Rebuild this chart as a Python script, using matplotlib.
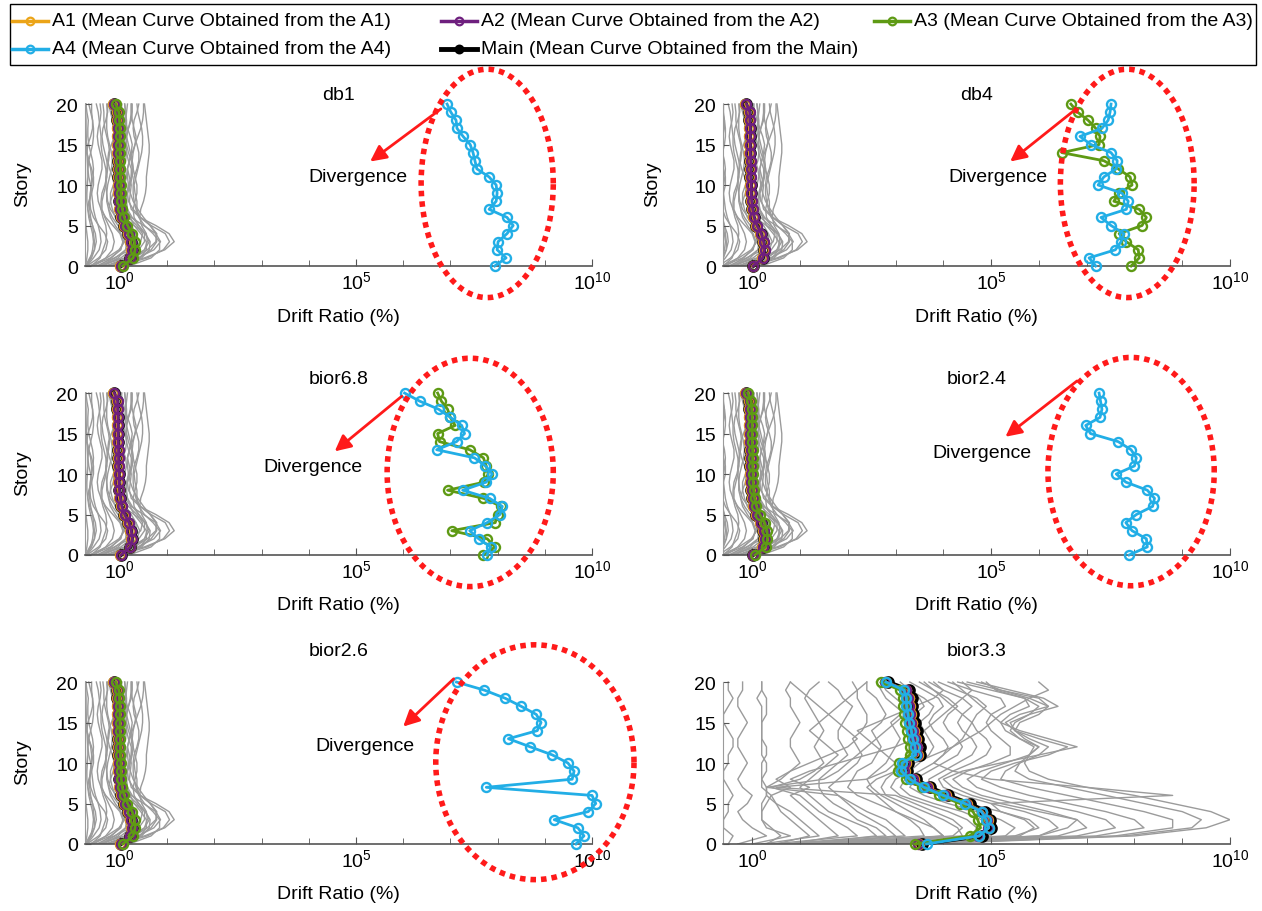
import numpy as np
import matplotlib.pyplot as plt
from matplotlib.lines import Line2D
from matplotlib.patches import Rectangle
from matplotlib.ticker import NullFormatter

plt.rcParams['font.family'] = ['Liberation Sans', 'DejaVu Sans']
plt.rcParams['mathtext.fontset'] = 'custom'
plt.rcParams['mathtext.rm'] = 'Liberation Sans'
plt.rcParams['font.size'] = 14

stories = np.arange(21)  # story 0 .. 20

# --- individual record drift ratios (log10), story 0..20 ---
# shared by the well behaved wavelets (db1, db4, bior6.8, bior2.4, bior2.6)
records_stable = [
    [-0.70, -0.62, -0.58, -0.56, -0.58, -0.62, -0.66, -0.68, -0.70, -0.70, -0.69, -0.68, -0.68, -0.69, -0.70, -0.71, -0.72, -0.72, -0.72, -0.73, -0.73],
    [-0.70, -0.45, -0.30, -0.26, -0.32, -0.45, -0.56, -0.62, -0.64, -0.63, -0.60, -0.57, -0.56, -0.58, -0.62, -0.66, -0.68, -0.68, -0.67, -0.70, -0.72],
    [-0.60, -0.20, 0.02, 0.06, 0.00, -0.15, -0.30, -0.40, -0.46, -0.48, -0.46, -0.42, -0.38, -0.38, -0.42, -0.46, -0.48, -0.46, -0.42, -0.40, -0.42],
    [-0.45, 0.10, 0.36, 0.42, 0.34, 0.12, -0.08, -0.20, -0.26, -0.28, -0.30, -0.30, -0.28, -0.24, -0.22, -0.24, -0.28, -0.32, -0.34, -0.34, -0.36],
    [-0.30, 0.25, 0.52, 0.62, 0.54, 0.30, 0.06, -0.06, -0.10, -0.08, -0.02, 0.02, 0.02, -0.04, -0.10, -0.12, -0.10, -0.04, 0.00, 0.00, -0.06],
    [-0.20, 0.38, 0.72, 0.86, 0.76, 0.50, 0.24, 0.10, 0.04, 0.04, 0.10, 0.14, 0.12, 0.06, 0.02, 0.04, 0.10, 0.14, 0.14, 0.12, 0.10],
    [-0.25, 0.52, 0.95, 1.15, 1.04, 0.76, 0.42, 0.24, 0.20, 0.22, 0.24, 0.20, 0.16, 0.20, 0.26, 0.32, 0.34, 0.30, 0.26, 0.24, 0.24],
    [0.00, 0.58, 0.92, 1.05, 0.96, 0.66, 0.42, 0.36, 0.36, 0.32, 0.30, 0.34, 0.38, 0.42, 0.46, 0.48, 0.48, 0.46, 0.42, 0.38, 0.36],
    [-0.40, 0.02, 0.24, 0.34, 0.34, 0.24, 0.12, 0.06, 0.02, -0.02, -0.04, -0.08, -0.10, -0.06, 0.00, 0.04, 0.06, 0.10, 0.12, 0.12, 0.10],
    [-0.65, -0.28, -0.02, 0.10, 0.08, -0.04, -0.16, -0.24, -0.28, -0.28, -0.26, -0.22, -0.18, -0.16, -0.18, -0.22, -0.26, -0.28, -0.28, -0.27, -0.28],
    [-0.55, -0.30, -0.16, -0.12, -0.16, -0.24, -0.32, -0.38, -0.38, -0.34, -0.30, -0.28, -0.30, -0.34, -0.38, -0.40, -0.40, -0.42, -0.44, -0.46, -0.50],
    [-0.15, 0.12, 0.26, 0.28, 0.18, 0.02, -0.10, -0.16, -0.20, -0.20, -0.14, -0.06, 0.00, 0.02, 0.00, -0.06, -0.10, -0.14, -0.16, -0.20, -0.24],
    [0.10, 0.46, 0.62, 0.64, 0.54, 0.40, 0.30, 0.28, 0.32, 0.36, 0.36, 0.32, 0.28, 0.26, 0.28, 0.32, 0.38, 0.44, 0.48, 0.50, 0.50],
    [-0.30, 0.14, 0.40, 0.52, 0.52, 0.40, 0.26, 0.16, 0.12, 0.14, 0.18, 0.24, 0.26, 0.24, 0.18, 0.14, 0.14, 0.18, 0.22, 0.24, 0.24],
    [-0.72, -0.60, -0.54, -0.54, -0.56, -0.58, -0.64, -0.68, -0.66, -0.60, -0.56, -0.56, -0.60, -0.66, -0.70, -0.68, -0.62, -0.58, -0.58, -0.62, -0.66],
    [-0.40, -0.10, 0.12, 0.24, 0.24, 0.14, 0.02, -0.04, -0.08, -0.10, -0.08, -0.02, 0.06, 0.12, 0.14, 0.12, 0.06, 0.02, 0.00, 0.00, 0.02],
    [0.20, 0.66, 0.84, 0.84, 0.70, 0.52, 0.40, 0.34, 0.30, 0.28, 0.28, 0.30, 0.36, 0.40, 0.40, 0.36, 0.30, 0.28, 0.30, 0.36, 0.40],
    [-0.15, 0.30, 0.58, 0.76, 0.78, 0.64, 0.44, 0.28, 0.18, 0.16, 0.20, 0.24, 0.24, 0.18, 0.14, 0.12, 0.14, 0.18, 0.24, 0.26, 0.26],
    [-0.60, -0.42, -0.36, -0.30, -0.28, -0.30, -0.36, -0.40, -0.40, -0.38, -0.32, -0.28, -0.26, -0.28, -0.32, -0.36, -0.38, -0.36, -0.30, -0.26, -0.26],
    [0.00, 0.40, 0.66, 0.78, 0.76, 0.64, 0.50, 0.38, 0.28, 0.22, 0.18, 0.16, 0.16, 0.20, 0.24, 0.26, 0.22, 0.16, 0.10, 0.06, 0.02],
    [-0.70, -0.56, -0.44, -0.40, -0.42, -0.46, -0.52, -0.56, -0.58, -0.60, -0.62, -0.66, -0.68, -0.66, -0.62, -0.58, -0.56, -0.56, -0.58, -0.60, -0.60],
    [-0.35, -0.04, 0.12, 0.14, 0.10, 0.02, -0.04, -0.08, -0.08, -0.04, 0.00, 0.02, 0.00, -0.06, -0.12, -0.14, -0.12, -0.08, -0.04, -0.06, -0.10],
    [0.12, 0.42, 0.56, 0.56, 0.44, 0.30, 0.22, 0.16, 0.14, 0.16, 0.22, 0.26, 0.28, 0.26, 0.22, 0.18, 0.14, 0.12, 0.12, 0.14, 0.16],
    [-0.45, -0.18, 0.00, 0.08, 0.02, -0.10, -0.20, -0.24, -0.20, -0.14, -0.12, -0.16, -0.22, -0.26, -0.24, -0.18, -0.12, -0.10, -0.12, -0.14, -0.16],
    [0.05, 0.32, 0.52, 0.58, 0.56, 0.46, 0.42, 0.44, 0.50, 0.54, 0.56, 0.56, 0.58, 0.60, 0.62, 0.62, 0.60, 0.58, 0.56, 0.54, 0.52],
    [-0.73, -0.64, -0.54, -0.50, -0.52, -0.58, -0.62, -0.64, -0.64, -0.62, -0.60, -0.60, -0.62, -0.66, -0.70, -0.72, -0.72, -0.73, -0.73, -0.73, -0.73],
    [-0.73, -0.70, -0.68, -0.68, -0.70, -0.72, -0.73, -0.73, -0.73, -0.72, -0.72, -0.73, -0.73, -0.73, -0.73, -0.72, -0.72, -0.73, -0.73, -0.73, -0.73],
    [-0.50, -0.12, 0.22, 0.44, 0.48, 0.36, 0.18, 0.04, -0.04, -0.06, -0.02, 0.04, 0.08, 0.08, 0.04, -0.02, -0.06, -0.06, -0.02, 0.02, 0.04],
]

# records filtered with bior3.3 (log10 in tenths), story 0..20
records_bior33 = [
    [-5, -4, -6, -6, -5, -5, -4, -5, -6, -6, -5, -5, -4, -4, -5, -6, -6, -5, -4, -5, -5],
    [-3, 3, 0, -2, -3, -1, 0, -2, -3, -2, -1, -2, -3, -3, -2, -1, -2, -3, -3, -2, -2],
    [0, 8, 3, 2, 2, 3, 4, 2, 2, 3, 3, 2, 2, 2, 2, 2, 2, 2, 1, 2, 2],
    [2, 14, 12, 10, 8, 5, 3, 3, 6, 8, 10, 9, 8, 8, 9, 10, 9, 8, 8, 7, 8],
    [4, 22, 20, 17, 14, 12, 10, 4, 10, 13, 15, 14, 13, 14, 15, 14, 13, 12, 11, 12, 14],
    [6, 28, 26, 22, 20, 17, 15, 14, 14, 16, 18, 20, 19, 18, 18, 19, 20, 21, 19, 18, 16],
    [8, 32, 30, 28, 24, 21, 18, 16, 18, 20, 22, 23, 22, 21, 23, 24, 24, 23, 22, 22, 21],
    [10, 36, 35, 33, 30, 26, 22, 20, 21, 22, 25, 26, 27, 26, 25, 27, 28, 27, 26, 24, 24],
    [12, 40, 38, 36, 33, 30, 27, 25, 24, 26, 28, 29, 30, 31, 30, 29, 31, 32, 30, 28, 27],
    [14, 44, 43, 40, 36, 32, 28, 27, 28, 30, 31, 33, 34, 34, 33, 32, 34, 36, 35, 32, 29],
    [16, 46, 47, 45, 41, 36, 31, 29, 30, 33, 35, 37, 38, 37, 36, 35, 37, 38, 36, 33, 31],
    [18, 50, 51, 48, 44, 38, 33, 31, 32, 35, 38, 40, 41, 40, 38, 37, 38, 40, 39, 36, 33],
    [20, 53, 55, 52, 47, 41, 36, 33, 34, 37, 40, 43, 44, 43, 41, 40, 41, 43, 41, 38, 35],
    [22, 56, 59, 57, 52, 45, 40, 37, 37, 40, 43, 46, 47, 46, 44, 43, 44, 46, 44, 40, 37],
    [24, 60, 64, 62, 57, 50, 44, 40, 39, 42, 46, 49, 50, 49, 47, 46, 47, 49, 47, 43, 39],
    [26, 64, 70, 68, 62, 55, 48, 44, 42, 45, 50, 54, 54, 52, 50, 49, 50, 53, 52, 46, 41],
    [28, 68, 76, 74, 68, 60, 52, 47, 45, 48, 53, 58, 60, 56, 53, 52, 54, 58, 57, 50, 43],
    [30, 72, 82, 80, 74, 66, 58, 52, 48, 50, 55, 62, 66, 60, 55, 53, 56, 62, 60, 52, 45],
    [32, 76, 88, 88, 82, 74, 66, 58, 52, 53, 56, 60, 62, 58, 55, 54, 58, 64, 61, 54, 47],
    [34, 78, 92, 94, 90, 82, 74, 66, 58, 55, 56, 58, 60, 57, 55, 56, 60, 62, 58, 52, 48],
    [36, 80, 95, 100, 96, 88, 80, 70, 62, 58, 57, 58, 59, 56, 54, 55, 58, 60, 57, 51, 49],
    [25, 55, 60, 58, 52, 50, 88, 70, 50, 42, 38, 40, 42, 44, 45, 46, 44, 42, 40, 38, 36],
    [15, 30, 28, 25, 22, 20, 18, 3, 15, 18, 20, 22, 24, 26, 28, 30, 32, 30, 28, 27, 26],
    [5, 12, 10, 8, 6, 5, 4, 8, 5, 8, 12, 16, 20, 22, 20, 18, 16, 14, 12, 10, 8],
    [20, 40, 38, 34, 30, 28, 26, 24, 26, 30, 34, 38, 42, 45, 48, 50, 52, 55, 58, 62, 60],
    [10, 26, 24, 20, 16, 14, 12, 10, 12, 14, 16, 18, 16, 14, 12, 14, 16, 18, 20, 22, 24],
    [3, 6, 4, 2, 2, 2, 3, 3, 2, 2, 2, 3, 3, 2, 2, 2, 3, 3, 3, 2, 2],
    [30, 60, 66, 68, 60, 52, 46, 42, 40, 44, 52, 60, 68, 62, 56, 52, 50, 48, 46, 44, 42],
    [8, 18, 16, 14, 12, 10, 8, 12, 8, 12, 18, 24, 30, 34, 36, 38, 40, 42, 44, 46, 44],
    [18, 42, 44, 42, 38, 34, 30, 5, 24, 28, 30, 28, 26, 24, 22, 26, 30, 34, 38, 40, 38],
]

# --- mean curves, log10 drift ratio, story 0..20 ---
mean_main = [0.02, 0.22, 0.25, 0.23, 0.18, 0.09, 0.03, 0.00, -0.02, -0.03, -0.03,
             -0.04, -0.04, -0.04, -0.05, -0.05, -0.05, -0.05, -0.06, -0.06, -0.13]
mean_a1 = [0.01, 0.21, 0.24, 0.22, 0.17, 0.08, 0.02, -0.01, -0.03, -0.04, -0.04,
           -0.05, -0.05, -0.05, -0.06, -0.06, -0.06, -0.06, -0.07, -0.07, -0.14]
mean_a2 = [0.02, 0.22, 0.26, 0.24, 0.19, 0.10, 0.04, 0.01, -0.01, -0.02, -0.02,
           -0.03, -0.03, -0.03, -0.04, -0.04, -0.04, -0.04, -0.05, -0.05, -0.12]
mean_a3 = [0.06, 0.28, 0.32, 0.31, 0.26, 0.16, 0.09, 0.05, 0.03, 0.02, 0.02,
           0.01, 0.01, 0.01, 0.00, 0.00, 0.00, 0.00, -0.01, -0.02, -0.09]

db1_a4 = [7.94, 8.18, 7.99, 8.01, 8.20, 8.33, 8.20, 7.82, 7.97, 7.99, 7.97,
          7.82, 7.56, 7.52, 7.48, 7.42, 7.27, 7.14, 7.12, 7.01, 6.93]
db4_a3 = [7.93, 8.10, 8.08, 7.83, 7.68, 8.16, 8.25, 8.10, 7.57, 7.68, 7.95,
          7.91, 7.66, 7.36, 6.48, 7.26, 7.28, 7.19, 7.03, 6.81, 6.67]
db4_a4 = [7.19, 7.05, 7.60, 7.72, 7.78, 7.51, 7.30, 7.83, 7.87, 7.74, 7.24,
          7.36, 7.62, 7.64, 7.51, 7.09, 6.86, 7.32, 7.45, 7.49, 7.51]
bior68_a3 = [7.70, 7.95, 7.78, 7.03, 7.95, 8.00, 8.08, 7.70, 6.94, 7.72, 7.80,
             7.76, 7.70, 7.41, 6.77, 6.73, 7.10, 7.00, 6.94, 6.81, 6.73]
bior68_a4 = [7.78, 7.85, 7.60, 7.41, 7.78, 8.05, 8.10, 7.83, 7.26, 7.76, 7.89,
             7.74, 7.51, 6.71, 7.13, 7.30, 7.24, 7.00, 6.75, 6.35, 6.03]
bior24_a4 = [7.89, 8.27, 8.25, 7.95, 7.82, 8.04, 8.38, 8.42, 8.27, 7.82, 7.62,
             8.00, 8.04, 7.93, 7.66, 7.08, 6.98, 7.28, 7.32, 7.29, 7.26]
bior26_a4 = [9.66, 9.83, 9.70, 9.20, 9.92, 10.08, 10.00, 7.76, 9.58, 9.62, 9.49,
             9.16, 8.69, 8.23, 8.84, 8.92, 8.82, 8.50, 8.16, 7.72, 7.13]

bior33_main = [3.55, 4.80, 5.00, 4.98, 4.88, 4.55, 4.10, 3.72, 3.42, 3.25, 3.26,
               3.52, 3.51, 3.47, 3.44, 3.40, 3.37, 3.35, 3.34, 3.28, 2.85]
bior33_a1 = [3.50, 4.75, 4.95, 4.94, 4.82, 4.50, 4.05, 3.67, 3.38, 3.20, 3.22,
             3.47, 3.46, 3.42, 3.39, 3.35, 3.32, 3.30, 3.29, 3.23, 2.80]
bior33_a2 = [3.48, 4.73, 4.93, 4.92, 4.80, 4.48, 4.03, 3.65, 3.36, 3.18, 3.20,
             3.45, 3.44, 3.40, 3.37, 3.33, 3.30, 3.28, 3.27, 3.21, 2.78]
bior33_a3 = [3.40, 4.55, 4.78, 4.72, 4.62, 4.35, 3.92, 3.55, 3.22, 3.05, 3.08,
             3.30, 3.30, 3.27, 3.24, 3.20, 3.18, 3.16, 3.15, 3.10, 2.70]
bior33_a4 = [3.65, 4.75, 4.95, 4.90, 4.80, 4.45, 4.00, 3.60, 3.30, 3.12, 3.14,
             3.42, 3.41, 3.36, 3.33, 3.29, 3.26, 3.23, 3.23, 3.18, 2.80]

names = ['Main', 'A1', 'A2', 'A3', 'A4']
colors = {'Main': 'black', 'A1': '#EBA418', 'A2': '#6E1F7E',
          'A3': '#5E9A14', 'A4': '#22AEE6'}

panels = [
    dict(title='db1', cell=(0, 0), grey=np.array(records_stable),
         curves=[mean_main, mean_a1, mean_a2, mean_a3, db1_a4],
         ring=(7.78, 10.2, 1.40, 14.1), arrow=((6.8, 19.4), (5.3, 12.9)),
         label=(5.04, 11.0), title_y=95),
    dict(title='db4', cell=(0, 1), grey=np.array(records_stable),
         curves=[mean_main, mean_a1, mean_a2, db4_a3, db4_a4],
         ring=(7.85, 10.2, 1.40, 14.1), arrow=((6.78, 19.4), (5.4, 12.9)),
         label=(5.15, 11.0), title_y=95),
    dict(title='bior6.8', cell=(1, 0), grey=np.array(records_stable),
         curves=[mean_main, mean_a1, mean_a2, bior68_a3, bior68_a4],
         ring=(7.42, 10.2, 1.76, 14.1), arrow=((5.97, 19.6), (4.55, 12.8)),
         label=(4.09, 10.9), title_y=380),
    dict(title='bior2.4', cell=(1, 1), grey=np.array(records_stable),
         curves=[mean_main, mean_a1, mean_a2, mean_a3, bior24_a4],
         ring=(7.93, 10.3, 1.74, 14.1), arrow=((6.8, 21.5), (5.3, 14.6)),
         label=(4.8, 12.6), title_y=380),
    dict(title='bior2.6', cell=(2, 0), grey=np.array(records_stable),
         curves=[mean_main, mean_a1, mean_a2, mean_a3, bior26_a4],
         ring=(8.79, 10.1, 2.1, 14.5), arrow=((7.07, 20.4), (6.0, 14.5)),
         label=(5.19, 12.2), title_y=652),
    dict(title='bior3.3', cell=(2, 1), grey=np.array(records_bior33) / 10,
         curves=[bior33_main, bior33_a1, bior33_a2, bior33_a3, bior33_a4],
         ring=None, title_y=652),
]

W, H = 1262, 912
fig = plt.figure(figsize=(W / 100, H / 100), dpi=100)
row_axis_y = [267, 556, 845]          # pixel row of story 0
col_px = [(85, 592), (723, 1230)]     # pixel span of each column's x axis
col_xmin = [-0.74, -0.61]
ax_hpx = 166

for p in panels:
    r, c = p['cell']
    x0, x1 = col_px[c]
    ax = fig.add_axes([x0 / W, (H - row_axis_y[r]) / H, (x1 - x0) / W, ax_hpx / H])
    ax.set_xscale('log')

    for rec in p['grey']:
        ax.plot(10 ** rec, stories, color='#9b9b9b', lw=1.0, zorder=1)

    for name, vals in zip(names, p['curves']):
        lw = 3.0 if name == 'Main' else 2.0
        ax.plot(10 ** np.array(vals), stories, color=colors[name], lw=lw,
                marker='o', ms=6.5, mfc='none', mew=1.7 if name != 'Main' else 2.6,
                clip_on=False, zorder=3)

    if p['ring'] is not None:
        cx, cy, rx, ry = p['ring']
        t = np.linspace(0, 2 * np.pi, 400)
        ax.plot(10 ** (cx + rx * np.cos(t)), cy + ry * np.sin(t), color='#ff1a1a',
                lw=4, dashes=(1.0, 0.9), clip_on=False, zorder=4)
        (tx, ty), (hx, hy) = p['arrow']
        ax.annotate('', xy=(10 ** hx, hy), xytext=(10 ** tx, ty),
                    arrowprops=dict(arrowstyle='-|>', color='#ff1a1a', lw=2,
                                    mutation_scale=24, shrinkA=0, shrinkB=0),
                    annotation_clip=False, zorder=5)
        lx, ly = p['label']
        ax.text(10 ** lx, ly, 'Divergence', ha='center', va='center', fontsize=14)

    ax.set_xlim(10 ** col_xmin[c], 1e10)
    ax.set_ylim(0, 20.5)
    ax.set_xticks([1, 1e5, 1e10])
    ax.set_xticks([10.0 ** k for k in range(1, 10) if k != 5], minor=True)
    ax.xaxis.set_minor_formatter(NullFormatter())
    ax.set_xticklabels(['$10^{0}$', '$10^{5}$', '$10^{10}$'])
    ax.set_yticks([0, 5, 10, 15, 20])
    ax.tick_params(axis='both', which='both', direction='in', labelsize=14,
                   color='#555555')
    ax.tick_params(axis='x', which='major', length=5, pad=3)
    ax.tick_params(axis='x', which='minor', length=4)
    ax.tick_params(axis='y', length=4, pad=5)
    for s in ('top', 'right'):
        ax.spines[s].set_visible(False)
    ax.spines['left'].set_color('#9b9b9b')
    ax.spines['left'].set_bounds(0, 20)
    ax.spines['bottom'].set_color('#555555')
    ax.spines['bottom'].set_linewidth(1.2)

    ax.set_xlabel('Drift Ratio (%)', fontsize=14, va='center')
    ax.xaxis.set_label_coords(0.5, -50 / ax_hpx)
    if c == 0 or r == 0:
        ax.set_ylabel('Story', fontsize=14)
        ax.yaxis.set_label_coords(((31 if c == 0 else 661) - x0) / (x1 - x0), 0.5)
    ax.patch.set_alpha(0)

    fig.text((x0 + x1) / 2 / W, 1 - p['title_y'] / H, p['title'],
             ha='center', va='center', fontsize=14)

# legend box laid out in two rows, three fixed-width columns
fig.add_artist(Rectangle((10 / W, 1 - 66 / H), 1246 / W, 61 / H,
                         transform=fig.transFigure, fill=False,
                         ec='black', lw=1.0))
legend_slots = {'A1': (12, 22), 'A2': (441, 22), 'A3': (874, 22),
                'A4': (12, 50), 'Main': (441, 50)}
for name, (x, y) in legend_slots.items():
    yy = 1 - y / H
    fig.add_artist(Line2D([x / W, (x + 36) / W], [yy, yy], color=colors[name],
                          lw=3.5 if name == 'Main' else 2.5,
                          transform=fig.transFigure))
    fig.add_artist(Line2D([(x + 18) / W], [yy], color=colors[name], marker='o',
                          ms=5.5, mfc='black' if name == 'Main' else 'none',
                          mew=1.6, transform=fig.transFigure))
    fig.text((x + 40) / W, yy, f'{name} (Mean Curve Obtained from the {name})',
             ha='left', va='center', fontsize=14)

fig.savefig('out.png', dpi=100)
